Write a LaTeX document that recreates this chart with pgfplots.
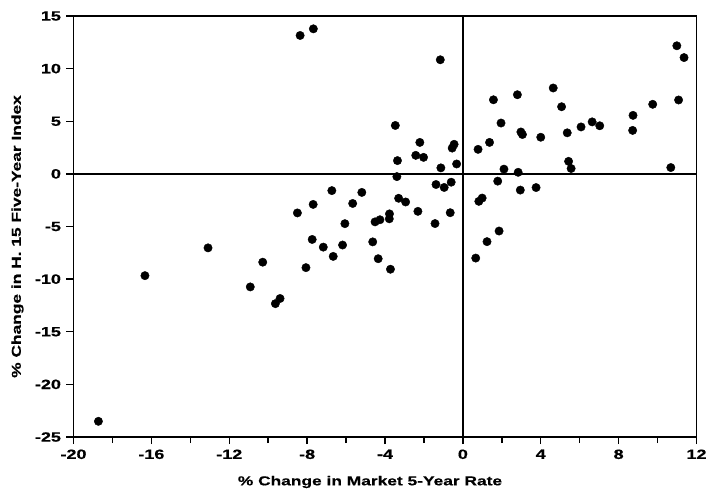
\documentclass[border=0pt]{standalone}
\usepackage{fontspec}
\setmainfont{Liberation Sans}
\newfontfamily\widefont[FakeStretch=1.34, FakeBold=0.6]{Liberation Sans}
\usepackage{pgfplots}
\pgfplotsset{compat=1.18}
\begin{document}
\begin{tikzpicture}
\useasboundingbox (-73.5bp,-67bp) rectangle (638.5bp,437bp);
\begin{axis}[
  scale only axis, width=623bp, height=421bp,
  xmin=-20, xmax=12, ymin=-25, ymax=15,
  axis line style={line width=1.6pt},
  xtick={-20,-16,...,12}, minor xtick={-18,-14,...,10},
  ytick={-25,-20,...,15},
  tick align=outside, tick pos=left,
  major tick length=7bp, minor tick length=6bp,
  every tick/.style={line width=1.4pt, black},
  tick label style={font=\widefont\bfseries\fontsize{13.5}{14}\selectfont},
  /pgf/number format/assume math mode=true,
  xticklabel style={yshift=-2bp},
  yticklabel style={xshift=-2bp},
  xlabel={\% Change in Market 5-Year Rate},
  ylabel={\% Change in H. 15 Five-Year Index},
  label style={font=\widefont\bfseries\fontsize{13}{14}\selectfont},
  xlabel style={at={([yshift=-45bp,xshift=-15bp]axis description cs:0.5,0)}, anchor=center},
  ylabel style={at={([xshift=-56bp,yshift=-10bp]axis description cs:0,0.5)}, anchor=center},
]
\draw[line width=1.3pt] (axis cs:0,-25) -- (axis cs:0,15);
\draw[line width=1.3pt] (axis cs:-20,0) -- (axis cs:12,0);
\addplot[only marks, mark=*, mark size=4.2bp, black] coordinates {
(-18.72,-23.51) (-16.33,-9.67) (-13.09,-7.03) (-10.92,-10.74) (-10.28,-8.39)
(-9.63,-12.33) (-9.39,-11.84) (-8.50,-3.71) (-8.06,-8.91) (-7.69,-2.90)
(-7.74,-6.23) (-7.17,-6.96) (-6.73,-1.59) (-6.66,-7.84) (-6.18,-6.76)
(-6.06,-4.73) (-5.66,-2.81) (-5.19,-1.76) (-4.63,-6.46) (-4.35,-8.06)
(-3.72,-9.06) (-4.51,-4.56) (-4.26,-4.36) (-3.77,-3.80) (-3.78,-4.27)
(-3.47,4.60) (-3.36,1.26) (-3.39,-0.26) (-3.30,-2.32) (-2.94,-2.67)
(-2.42,1.76) (-2.02,1.57) (-2.21,2.99) (-2.31,-3.56) (-1.16,10.84)
(-1.38,-1.01) (-0.96,-1.29) (-0.60,-0.79) (-1.43,-4.72) (-1.13,0.57)
(-0.65,-3.69) (-0.55,2.45) (-0.45,2.81) (-0.32,0.94) (0.78,2.33)
(0.82,-2.61) (0.99,-2.30) (0.66,-8.00) (1.37,2.99) (1.24,-6.44)
(1.57,7.04) (1.79,-0.69) (1.96,4.83) (1.86,-5.43) (2.11,0.45)
(2.80,7.52) (2.84,0.15) (2.98,3.98) (3.06,3.74) (2.95,-1.54)
(3.76,-1.30) (4.00,3.48) (4.64,8.16) (5.07,6.38) (5.36,3.90)
(5.43,1.19) (5.56,0.51) (6.07,4.46) (6.64,4.94) (7.03,4.57)
(8.74,5.56) (8.72,4.13) (9.75,6.61) (10.68,0.60) (10.99,12.17)
(11.08,7.02) (11.36,11.05) (-8.36,13.15) (-7.68,13.78)
};
\end{axis}
\end{tikzpicture}
\end{document}
